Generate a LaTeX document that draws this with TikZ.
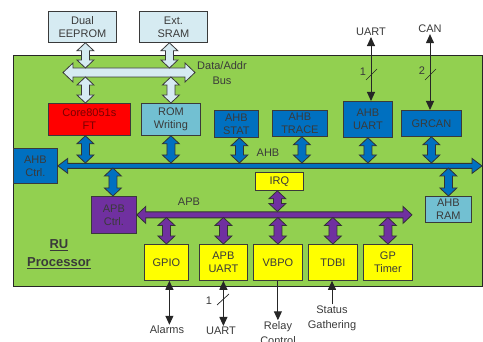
\documentclass[tikz,border=0pt]{standalone}
\usepackage{fontspec}
\setmainfont{Liberation Sans}
\usetikzlibrary{calc,arrows.meta}

\definecolor{ruGreen}{HTML}{92D050}
\definecolor{ruBlue}{HTML}{0070C0}
\definecolor{ruPurple}{HTML}{7030A0}
\definecolor{ruRed}{HTML}{FF0000}
\definecolor{ruDarkRed}{HTML}{7A0000}
\definecolor{ruYellow}{HTML}{FFFF00}
\definecolor{ruTeal}{HTML}{72C0D2}
\definecolor{ruPale}{HTML}{D6EBF2}
\definecolor{ruText}{HTML}{3A3A3A}

% fat double arrow, vertical: x from #2, y from #2 and #3
\newcommand{\vfat}[3]{%
  \draw[#1] let \p1=(#2), \p2=(#3) in
    (\x1,\y1) -- (\x1+8.5pt,\y1-8pt) -- (\x1+4pt,\y1-8pt) -- (\x1+4pt,\y2+8pt)
    -- (\x1+8.5pt,\y2+8pt) -- (\x1,\y2) -- (\x1-8.5pt,\y2+8pt) -- (\x1-4pt,\y2+8pt)
    -- (\x1-4pt,\y1-8pt) -- (\x1-8.5pt,\y1-8pt) -- cycle;}
% fat double arrow, horizontal: shaft half width, head half width, head length
\newcommand{\hfat}[6]{%
  \draw[#1] let \p1=(#2), \p2=(#3) in
    (\x1,\y1) -- (\x1+#6,\y1+#5) -- (\x1+#6,\y1+#4) -- (\x2-#6,\y1+#4) -- (\x2-#6,\y1+#5)
    -- (\x2,\y1) -- (\x2-#6,\y1-#5) -- (\x2-#6,\y1-#4) -- (\x1+#6,\y1-#4) -- (\x1+#6,\y1-#5) -- cycle;}

\begin{document}
\begin{tikzpicture}[x=1pt, y=-1pt,
    box/.style={draw=ruText, line width=0.8pt, text=ruText, align=center, anchor=north west,
      inner sep=0.5pt, font=\fontsize{11}{13}\selectfont},
    lbl/.style={text=ruText, align=center, inner sep=1pt, font=\fontsize{11}{15}\selectfont},
    palebus/.style={fill=ruPale, draw=ruText, line width=0.8pt},
    bluebus/.style={fill=ruBlue, draw=black!80, line width=0.8pt},
    purplebus/.style={fill=ruPurple, draw=black!80, line width=0.8pt},
    wire/.style={draw=black!85, line width=1pt},
    tip/.style={-{Triangle[length=9pt, width=8pt]}},
    tips/.style={{Triangle[length=9pt, width=8pt]}-{Triangle[length=9pt, width=8pt]}}]
  \useasboundingbox (0,0) rectangle (483,342);

  % processor area
  \draw[fill=ruGreen, draw=black!85, line width=0.8pt] (13,55) rectangle (482,286);
  \node[lbl, font=\fontsize{13}{18}\selectfont\bfseries] (ru) at (59,254) {\underline{RU}\\\underline{Processor}};

  % external memories
  \node[box, fill=ruPale, minimum width=68, minimum height=31] (eeprom) at (48,11) {Dual\\EEPROM};
  \node[box, fill=ruPale, minimum width=68, minimum height=31] (sram) at (139,11) {Ext.\\SRAM};

  % AHB masters and slaves
  \node[box, fill=ruRed, text=ruDarkRed, minimum width=82, minimum height=32] (core) at (48,103) {Core8051s\\FT};
  \node[box, fill=ruTeal, minimum width=59, minimum height=32] (rom) at (141,103) {ROM\\Writing};
  \node[box, fill=ruBlue, minimum width=44, minimum height=27] (ahbstat) at (214,110) {AHB\\STAT};
  \node[box, fill=ruBlue, minimum width=55, minimum height=26] (ahbtrace) at (272,110) {AHB\\TRACE};
  \node[box, fill=ruBlue, minimum width=49, minimum height=36] (ahbuart) at (343,101) {AHB\\UART};
  \node[box, fill=ruBlue, minimum width=60, minimum height=26] (grcan) at (401,110) {GRCAN};
  \node[box, fill=ruBlue, minimum width=44, minimum height=35] (ahbctrl) at (13,148) {AHB\\Ctrl.};
  \node[box, fill=ruTeal, minimum width=46, minimum height=26] (ahbram) at (425,196) {AHB\\RAM};

  % APB side
  \node[box, fill=ruPurple, minimum width=45, minimum height=37] (apbctrl) at (91,196) {APB\\Ctrl.};
  \node[box, fill=ruYellow, minimum width=48, minimum height=18] (irq) at (255,172) {IRQ};
  \node[box, fill=ruYellow, minimum width=44, minimum height=36] (gpio) at (144,244) {GPIO};
  \node[box, fill=ruYellow, minimum width=48, minimum height=36] (apbuart) at (199,244) {APB\\UART};
  \node[box, fill=ruYellow, minimum width=49, minimum height=36] (vbpo) at (253,244) {VBPO};
  \node[box, fill=ruYellow, minimum width=49, minimum height=36] (tdbi) at (308,244) {TDBI};
  \node[box, fill=ruYellow, minimum width=49, minimum height=36] (gptimer) at (363,244) {GP\\Timer};

  % bus edges
  \coordinate (dabL) at (63,72.5);  \coordinate (dabR) at (195,72.5);
  \coordinate (dabT) at (0,68);     \coordinate (dabB) at (0,77);
  \coordinate (ahbR) at (482,165.5);
  \coordinate (ahbT) at (0,163);    \coordinate (ahbB) at (0,168);
  \coordinate (apbR) at (412,214.5);
  \coordinate (apbT) at (0,211.5);  \coordinate (apbB) at (0,217.5);

  % Data/Addr bus
  \hfat{palebus}{dabL}{dabR}{4.5pt}{9.5pt}{10pt}
  \node[lbl] (dablbl) at (222,73) {Data/Addr\\Bus};
  \vfat{palebus}{[xshift=3pt]eeprom.south}{dabT}
  \vfat{palebus}{[xshift=-4pt]sram.south}{dabT}
  \vfat{palebus}{[xshift=3pt]eeprom.south|-dabB}{[xshift=-4pt]core.north}
  \vfat{palebus}{rom.north|-dabB}{rom.north}

  % AHB bus
  \hfat{bluebus}{ahbctrl.east}{ahbR}{2.5pt}{7.5pt}{10pt}
  \node[lbl] (ahblbl) at (268,153) {AHB};
  \vfat{bluebus}{[xshift=-4pt]core.south}{ahbT}
  \vfat{bluebus}{rom.south}{ahbT}
  \vfat{bluebus}{[xshift=3pt]ahbstat.south}{ahbT}
  \vfat{bluebus}{[xshift=2pt]ahbtrace.south}{ahbT}
  \vfat{bluebus}{ahbuart.south}{ahbT}
  \vfat{bluebus}{grcan.south}{ahbT}
  \vfat{bluebus}{[xshift=-1pt]apbctrl.north|-ahbB}{apbctrl.north}
  \vfat{bluebus}{ahbram.north|-ahbB}{ahbram.north}

  % APB bus
  \hfat{purplebus}{apbctrl.east}{apbR}{3pt}{8.5pt}{9pt}
  \node[lbl] (apblbl) at (189,202) {APB};
  \vfat{purplebus}{[xshift=-2pt]irq.south}{apbT}
  \vfat{purplebus}{gpio.north|-apbB}{gpio.north}
  \vfat{purplebus}{apbuart.north|-apbB}{apbuart.north}
  \vfat{purplebus}{vbpo.north|-apbB}{vbpo.north}
  \vfat{purplebus}{tdbi.north|-apbB}{tdbi.north}
  \vfat{purplebus}{gptimer.north|-apbB}{gptimer.north}

  % external signals, top
  \node[lbl] (uartin) at (371,32) {UART};
  \node[lbl] (canin) at (430,29) {CAN};
  \draw[wire, tips] (uartin.south) -- (uartin.south|-ahbuart.north);
  \draw[wire, tips] (canin.south) -- (canin.south|-grcan.north);
  \draw[wire, line width=0.7pt] (366,80) -- (377,69);
  \node[lbl] (uartw) at (363,72) {1};
  \draw[wire, line width=0.7pt] (425,80) -- (436,69);
  \node[lbl] (canw) at (422,71) {2};

  % external signals, bottom
  \node[lbl] (alarms) at (167,330) {Alarms};
  \node[lbl] (uartout) at (221,331) {UART};
  \node[lbl] (relay) at (278,333) {Relay\\Control};
  \node[lbl] (status) at (332,318) {Status\\Gathering};
  \draw[wire, tips] ([xshift=3pt]gpio.south) -- ([xshift=3pt]gpio.south|-alarms.north);
  \draw[wire, tips] (apbuart.south) -- (apbuart.south|-uartout.north);
  \draw[wire, tip] (vbpo.south) -- (vbpo.south|-relay.north);
  \draw[wire, tip] (status.north) -- (status.north|-tdbi.south);
  \draw[wire, line width=0.7pt] (217,305) -- (229,294);
  \node[lbl] (uartoutw) at (209,301) {1};
\end{tikzpicture}
\end{document}
